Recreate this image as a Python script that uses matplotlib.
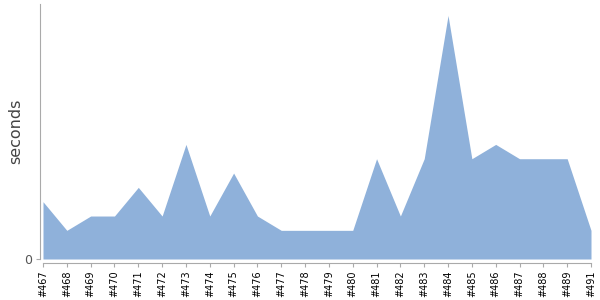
# Build durations area chart

import numpy as np
import matplotlib
matplotlib.use('Agg')
import matplotlib.pyplot as plt

# data
builds = ['#467', '#468', '#469', '#470', '#471', '#472', '#473', '#474',
          '#475', '#476', '#477', '#478', '#479', '#480', '#481', '#482',
          '#483', '#484', '#485', '#486', '#487', '#488', '#489', '#491']
seconds = [4, 2, 3, 3, 5, 3, 8, 3, 6, 3, 2, 2, 2, 2, 7, 3, 7, 17, 7, 8, 7, 7, 7, 2]

fig = plt.figure(figsize=(6, 3), dpi=100)
ax = fig.add_axes([43 / 600, 41 / 300, 548 / 600, 255 / 300])

# spines first: set_position resets the ticks
for s in ['top', 'right']:
    ax.spines[s].set_visible(False)
ax.spines['left'].set_position(('outward', 2.5))
ax.spines['bottom'].set_position(('outward', 3))
ax.spines['left'].set_color('#aaaaaa')
ax.spines['bottom'].set_color('#aaaaaa')

x = np.arange(len(builds))
ax.fill_between(x, seconds, 0, color='#8fb1da', linewidth=0)

ax.set_xlim(0, len(builds) - 1)
ax.set_ylim(0, 17.8)

ax.set_xticks(x)
ax.set_xticklabels(builds, rotation=90, fontsize=7, color='black')
ax.set_yticks([0])
ax.set_yticklabels(['0'], fontsize=9, color='#555555')
ax.tick_params(axis='x', length=3, color='#aaaaaa', pad=2)
ax.tick_params(axis='y', length=3, color='#aaaaaa', pad=2)

ax.set_ylabel('seconds', fontsize=11.5, color='#444444')
ax.yaxis.set_label_coords(-0.036, 0.5)

plt.savefig('out.png', dpi=100)
